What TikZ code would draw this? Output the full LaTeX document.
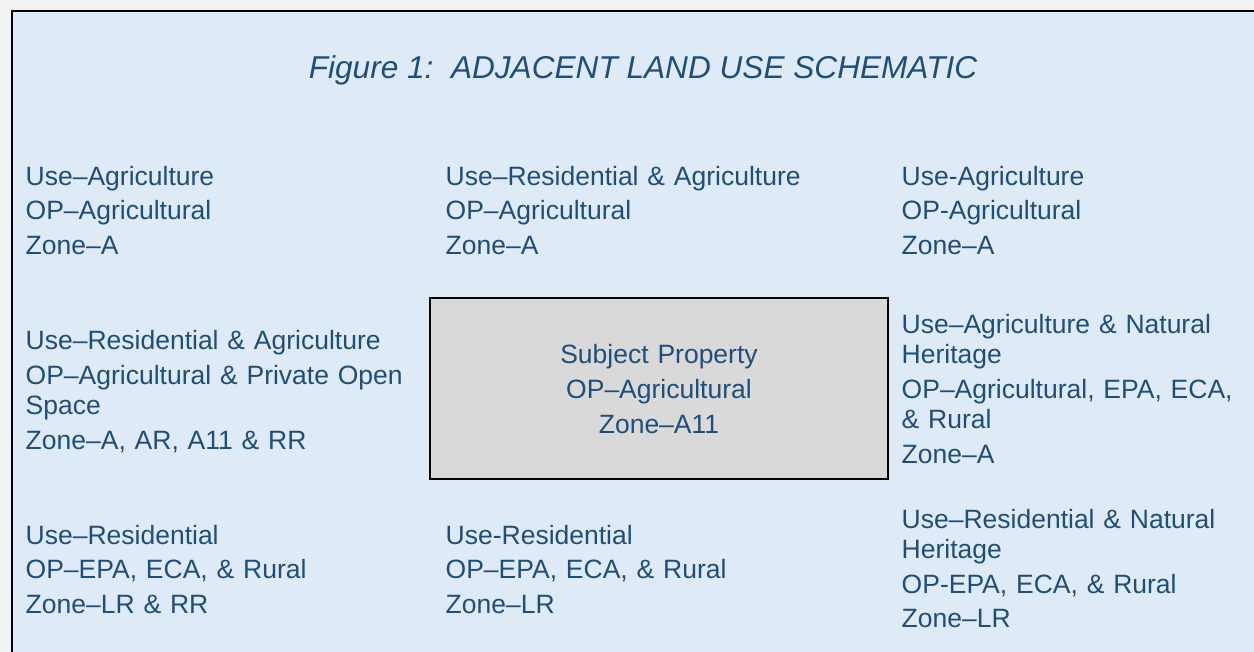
\documentclass[tikz,border=0pt]{standalone}
\usepackage{fontspec}
\setmainfont{Liberation Sans}
\definecolor{pagegray}{HTML}{F2F2F2}
\definecolor{cellblue}{HTML}{DEEAF6}
\definecolor{txtblue}{HTML}{1F4E79}
\definecolor{boxgray}{HTML}{D9D9D9}
\tikzset{
  celltext/.style={anchor=base west, inner sep=0pt, text width=420pt, align=left,
    text=txtblue, font=\fontsize{26.5}{30}\selectfont},
  subjtext/.style={anchor=base, inner sep=0pt, text width=450pt, align=center,
    text=txtblue, font=\fontsize{26.5}{30}\selectfont},
  titletext/.style={anchor=base, inner sep=0pt, text=txtblue,
    font=\fontsize{31.6}{36}\selectfont\itshape},
  subjbox/.style={draw=black, fill=boxgray, line width=1.8pt}
}
\begin{document}
\begin{tikzpicture}[x=1pt,y=-1pt]
\useasboundingbox (0,0) rectangle (1254,652);
\fill[pagegray] (0,0) rectangle (1254,652);
\begin{scope}
\clip (0,0) rectangle (1254,652);
\filldraw[fill=cellblue, draw=black, line width=2.3pt] (12,11) rectangle (1270,670);
\end{scope}

\node[titletext] (title) at (643,79) {Figure 1:\ \ ADJACENT LAND USE SCHEMATIC};

% row 1
\node[celltext] (nw) at (25.5,185.7) {Use–Agriculture\\[4.3pt]OP–Agricultural\\[4.3pt]Zone–A};
\node[celltext] (n) at (445.5,185.7) {Use–Residential \& Agriculture\\[4.3pt]OP–Agricultural\\[4.3pt]Zone–A};
\node[celltext] (ne) at (901.5,185.7) {Use-Agriculture\\[4.3pt]OP-Agricultural\\[4.3pt]Zone–A};

% row 2
\node[celltext] (w) at (25.5,349.7) {Use–Residential \& Agriculture\\[5pt]OP–Agricultural \& Private Open\\Space\\[5pt]Zone–A, AR, A11 \& RR};
\draw[subjbox] (430,298) rectangle (888,479);
\node[subjtext] (subj) at (659,363.3) {Subject Property\\[5pt]OP–Agricultural\\[5pt]Zone–A11};
\node[celltext] (e) at (901.5,333.3) {Use–Agriculture \& Natural\\Heritage\\[5pt]OP–Agricultural, EPA, ECA,\\\& Rural\\[5pt]Zone–A};

% row 3
\node[celltext] (sw) at (25.5,544.5) {Use–Residential\\[4.3pt]OP–EPA, ECA, \& Rural\\[4.3pt]Zone–LR \& RR};
\node[celltext] (s) at (445.5,544.5) {Use-Residential\\[4.3pt]OP–EPA, ECA, \& Rural\\[4.3pt]Zone–LR};
\node[celltext] (se) at (901.5,528) {Use–Residential \& Natural\\Heritage\\[5pt]OP-EPA, ECA, \& Rural\\[5pt]Zone–LR};
\end{tikzpicture}
\end{document}
